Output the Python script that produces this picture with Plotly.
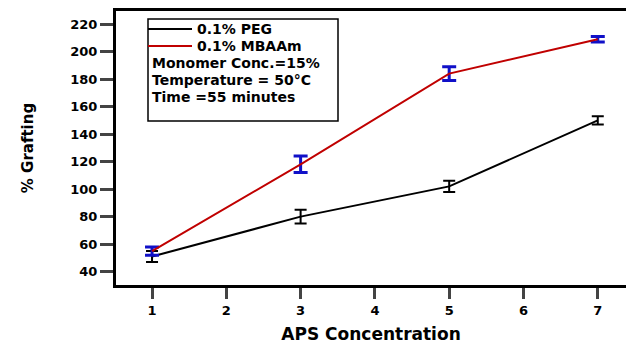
import plotly.graph_objects as go

aps = [1, 3, 5, 7]
peg = [51, 80, 102, 150]
peg_err = [4, 5, 4, 3]
mba = [55, 118, 184, 209]
mba_err = [3, 6, 5, 2]
yticks = [40, 60, 80, 100, 120, 140, 160, 180, 200, 220]
xticks = [1, 2, 3, 4, 5, 6, 7]

FONT = "DejaVu Sans, Arial, sans-serif"

fig = go.Figure()
fig.add_trace(go.Scatter(
    x=aps, y=peg, mode="lines", name="0.1% PEG",
    line=dict(color="black", width=2),
    error_y=dict(type="data", array=peg_err, color="black", thickness=2, width=6),
))
fig.add_trace(go.Scatter(
    x=aps, y=mba, mode="lines", name="0.1% MBAAm",
    line=dict(color="#c00000", width=2),
    error_y=dict(type="data", array=mba_err, color="#1010c8", thickness=3, width=7),
))

fig.update_layout(
    width=626, height=345,
    margin=dict(l=116, r=0, t=11, b=60),
    paper_bgcolor="white", plot_bgcolor="white",
    showlegend=False,
    font=dict(family=FONT, size=13, color="black"),
)
fig.update_xaxes(
    range=[0.515, 7.38], tickvals=xticks, ticks="outside", ticklen=11, tickwidth=3,
    showline=True, linewidth=3, linecolor="black", mirror=True, showgrid=False, zeroline=False,
    tickfont=dict(family=FONT, size=13, weight="bold"),
    title=dict(text="APS Concentration", font=dict(family=FONT, size=17, weight="bold"), standoff=12),
)
fig.update_yaxes(
    range=[30.3, 229.5], tickvals=yticks, ticks="outside", ticklen=13, tickwidth=3,
    showline=True, linewidth=3, linecolor="black", mirror=False, showgrid=False, zeroline=False,
    tickfont=dict(family=FONT, size=13, weight="bold"),
    title=dict(text="% Grafting", font=dict(family=FONT, size=15, weight="bold"), standoff=34),
)

# legend box
W, H, L, T = 510, 274, 116, 11
def px(x): return (x - L) / W
def py(y): return 1 - (y - T) / H

fig.add_shape(type="rect", xref="paper", yref="paper", x0=px(148), x1=px(338), y0=py(121), y1=py(19),
              line=dict(color="black", width=1.5), fillcolor="white", layer="above")
entries = [("0.1% PEG", "black", 29), ("0.1% MBAAm", "#c00000", 46)]
for txt, col, yy in entries:
    fig.add_shape(type="line", xref="paper", yref="paper", x0=px(148), x1=px(192), y0=py(yy), y1=py(yy),
                  line=dict(color=col, width=2))
    fig.add_annotation(text=txt, xref="paper", yref="paper", x=px(195), y=py(yy), xanchor="left", yanchor="middle",
                       showarrow=False, font=dict(family=FONT, size=14, weight="bold"))
notes = [("Monomer Conc.=15%", 63), ("Temperature = 50°C", 80), ("Time =55 minutes", 97)]
for txt, yy in notes:
    fig.add_annotation(text=txt, xref="paper", yref="paper", x=px(150), y=py(yy), xanchor="left", yanchor="middle",
                       showarrow=False, font=dict(family=FONT, size=14, weight="bold"))

fig.write_html("out.html")
